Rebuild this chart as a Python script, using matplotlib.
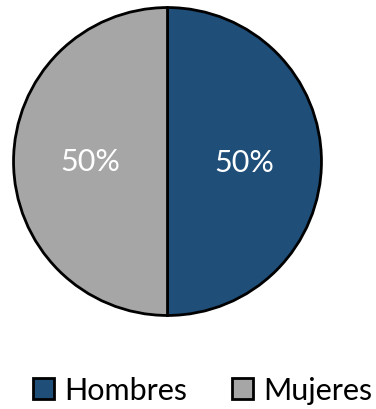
import matplotlib.pyplot as plt
from matplotlib.patches import Patch

labels = ["Hombres", "Mujeres"]
values = [50, 50]
colors = ["#1F4E79", "#A6A6A6"]

plt.rcParams["font.family"] = ["Lato", "DejaVu Sans"]

fig = plt.figure(figsize=(3.76, 4.10), dpi=100)
ax = fig.add_axes([12 / 376, (410 - 318) / 410, 311 / 376, 311 / 410])

ax.pie(
    values,
    colors=colors,
    startangle=90,
    counterclock=False,
    autopct="%1.0f%%",
    pctdistance=0.5,
    radius=1,
    wedgeprops={"edgecolor": "black", "linewidth": 2},
    textprops={"color": "white", "fontsize": 22},
)
ax.set_xlim(-1.01, 1.01)
ax.set_ylim(-1.01, 1.01)
ax.set_aspect("equal")
ax.axis("off")

handles = [Patch(facecolor=c, edgecolor="black", linewidth=2) for c in colors]
fig.legend(
    handles,
    labels,
    loc="center",
    bbox_to_anchor=(0.539, 0.046),
    ncol=2,
    frameon=False,
    fontsize=22,
    handlelength=0.69,
    handleheight=0.69,
    handletextpad=0.33,
    columnspacing=1.47,
)

fig.savefig("out.png", dpi=100)
